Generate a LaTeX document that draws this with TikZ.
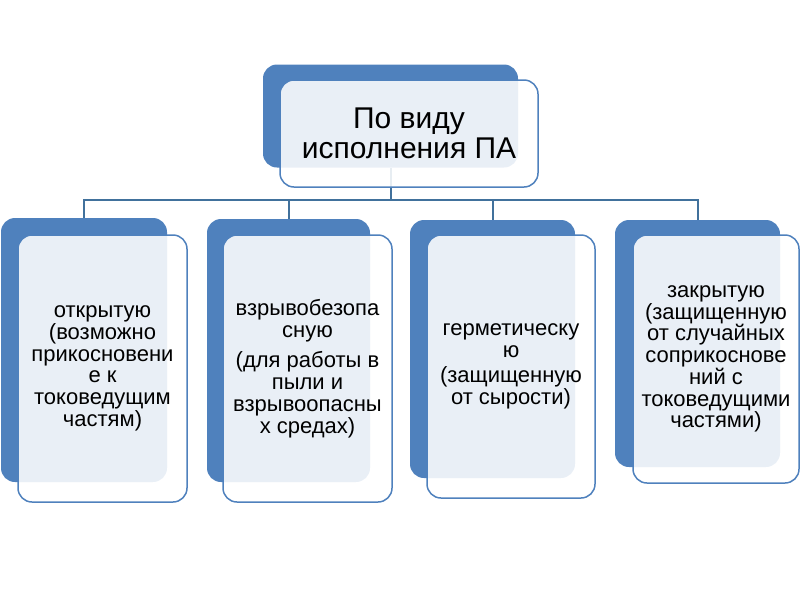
\documentclass[tikz,border=0pt]{standalone}
\usepackage{fontspec}
\setmainfont{Liberation Sans}
\usepackage{tikz}
\usetikzlibrary{positioning, backgrounds, calc}
\definecolor{sablue}{HTML}{4F81BD}
\definecolor{salink}{HTML}{41719C}
\tikzset{
    backbox/.style={rectangle, rounded corners=14pt, fill=sablue, draw=none, inner sep=0pt},
    frontbox/.style={rectangle, rounded corners=14pt, draw=sablue, line width=1.5pt, fill=white, fill opacity=0.88, text opacity=1, align=center, inner sep=2pt, text=black},
    childtext/.style={font=\fontsize{22}{21.7}\selectfont},
    toptext/.style={font=\fontsize{30}{30}\selectfont},
    link/.style={draw=salink, line width=2pt}
}

\begin{document}
\begin{tikzpicture}[x=1pt, y=-1pt]
    \useasboundingbox (0,0) rectangle (800,600);

    % top level
    \node (topback) [backbox, minimum width=255pt, minimum height=103pt] at (390.5,116) {};
    \node (topfront) [frontbox, toptext, minimum width=258pt, minimum height=107pt] at ($(topback.center)+(18.5,17.5)$) {По виду\\исполнения ПА};

    % second level
    \node (openback) [backbox, minimum width=166pt, minimum height=264pt] at (84,350) {};
    \node (explback) [backbox, minimum width=163pt, minimum height=263pt] at (288.5,350.5) {};
    \node (hermback) [backbox, minimum width=165pt, minimum height=258pt] at (492.5,349) {};
    \node (closback) [backbox, minimum width=165pt, minimum height=247pt] at (697.5,343.5) {};

    \node (openfront) [frontbox, childtext, minimum width=169pt, minimum height=267pt] at ($(openback.center)+(18.5,18.5)$)
        {открытую\\(возможно\\прикосновени\\е к\\токоведущим\\частям)};
    \node (explfront) [frontbox, childtext, minimum width=169pt, minimum height=267pt] at ($(explback.center)+(19,18)$)
        {взрывобезопа\\сную\\[9pt](для работы в\\пыли и\\взрывоопасны\\х средах)};
    \node (hermfront) [frontbox, childtext, minimum width=168pt, minimum height=263pt] at ($(hermback.center)+(18.5,17.5)$)
        {герметическу\\ю\\[4pt](защищенную\\от сырости)};
    \node (closfront) [frontbox, childtext, minimum width=166pt, minimum height=248pt] at ($(closback.center)+(18.5,15.5)$)
        {закрытую\\(защищенную\\от случайных\\соприкоснове\\ний с\\токоведущими\\частями)};

    \coordinate (bus) at (390.5,200);
    \begin{scope}[on background layer]
        \draw [link] (topback.south) -- (bus);
        \foreach \n in {openback, explback, hermback, closback}
            \draw [link] (bus) -| (\n.north);
    \end{scope}
\end{tikzpicture}
\end{document}
